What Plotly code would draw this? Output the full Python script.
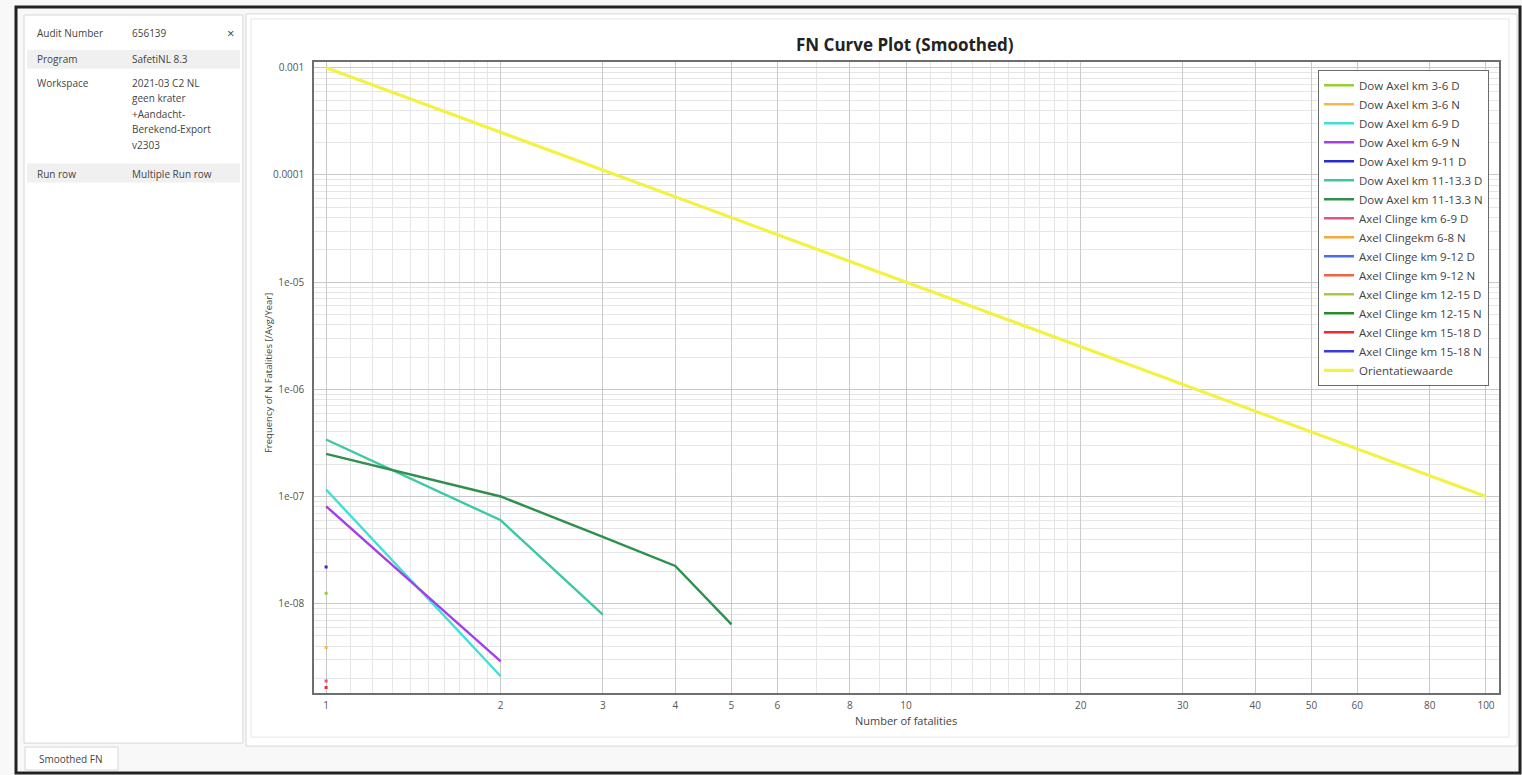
import plotly.graph_objects as go
import numpy as np

W, H = 1522, 775

# ---------------- data ----------------
series_names = [
    "Dow Axel km 3-6 D", "Dow Axel km 3-6 N", "Dow Axel km 6-9 D", "Dow Axel km 6-9 N",
    "Dow Axel km 9-11 D", "Dow Axel km 11-13.3 D", "Dow Axel km 11-13.3 N",
    "Axel Clinge km 6-9 D", "Axel Clingekm 6-8 N", "Axel Clinge km 9-12 D",
    "Axel Clinge km 9-12 N", "Axel Clinge km 12-15 D", "Axel Clinge km 12-15 N",
    "Axel Clinge km 15-18 D", "Axel Clinge km 15-18 N", "Orientatiewaarde",
]
series_colors = [
    "#9acd32", "#f4b84a", "#3fe0d6", "#a33ee8",
    "#2a2ad0", "#3cc9a2", "#2f8f4e",
    "#e8507e", "#f2a93a", "#4a6ee8",
    "#f06446", "#a9c843", "#2a8a2a",
    "#f02a2a", "#3a3ae0", "#f2f244",
]
n_dow_3_6_d = [1];            f_dow_3_6_d = [1.25e-8]
n_dow_3_6_n = [1];            f_dow_3_6_n = [3.9e-9]
n_dow_6_9_d = [1, 2];         f_dow_6_9_d = [1.16e-7, 2.1e-9]
n_dow_6_9_n = [1, 2];         f_dow_6_9_n = [8.1e-8, 2.9e-9]
n_dow_9_11_d = [1];           f_dow_9_11_d = [2.2e-8]
n_dow_11_13_d = [1, 2, 3];    f_dow_11_13_d = [3.4e-7, 6.0e-8, 7.9e-9]
n_dow_11_13_n = [1, 2, 3, 4, 5]; f_dow_11_13_n = [2.5e-7, 1.0e-7, 4.2e-8, 2.25e-8, 6.4e-9]
n_ac_6_9_d = [1];             f_ac_6_9_d = [1.9e-9]
n_ac_6_8_n = [1];             f_ac_6_8_n = [None]
n_ac_9_12_d = [1];            f_ac_9_12_d = [None]
n_ac_9_12_n = [1];            f_ac_9_12_n = [None]
n_ac_12_15_d = [1];           f_ac_12_15_d = [None]
n_ac_12_15_n = [1];           f_ac_12_15_n = [None]
n_ac_15_18_d = [1];           f_ac_15_18_d = [1.65e-9]
n_ac_15_18_n = [1];           f_ac_15_18_n = [None]
n_orient = [1, 100];          f_orient = [1e-3, 1e-7]

series_n = [n_dow_3_6_d, n_dow_3_6_n, n_dow_6_9_d, n_dow_6_9_n, n_dow_9_11_d,
            n_dow_11_13_d, n_dow_11_13_n, n_ac_6_9_d, n_ac_6_8_n, n_ac_9_12_d,
            n_ac_9_12_n, n_ac_12_15_d, n_ac_12_15_n, n_ac_15_18_d, n_ac_15_18_n, n_orient]
series_f = [f_dow_3_6_d, f_dow_3_6_n, f_dow_6_9_d, f_dow_6_9_n, f_dow_9_11_d,
            f_dow_11_13_d, f_dow_11_13_n, f_ac_6_9_d, f_ac_6_8_n, f_ac_9_12_d,
            f_ac_9_12_n, f_ac_12_15_d, f_ac_12_15_n, f_ac_15_18_d, f_ac_15_18_n, f_orient]

x_tickvals = [1, 2, 3, 4, 5, 6, 8, 10, 20, 30, 40, 50, 60, 80, 100]
y_tickvals = [1e-3, 1e-4, 1e-5, 1e-6, 1e-7, 1e-8]
y_ticktext = ["0.001", "0.0001", "1e-05", "1e-06", "1e-07", "1e-08"]

info_labels = ["Audit Number", "Program", "Workspace", "Run row"]
info_values = [["656139"], ["SafetiNL 8.3"],
               ["2021-03 C2 NL", "geen krater", "+Aandacht-", "Berekend-Export", "v2303"],
               ["Multiple Run row"]]

# ---------------- helpers ----------------
def px(x):
    return x / W

def py(y):
    return 1 - y / H

FONT = "Open Sans"
TXT = "#444"
fig = go.Figure()

for name, col, xs, ys in zip(series_names, series_colors, series_n, series_f):
    width = 3.2 if name == "Orientatiewaarde" else 2.4
    fig.add_trace(go.Scatter(x=xs, y=ys, mode="lines", name=name,
                             line=dict(color=col, width=width), legendgroup=name))
    if len(xs) == 1 and ys[0] is not None:
        fig.add_trace(go.Scatter(x=xs, y=ys, mode="markers", showlegend=False,
                                 legendgroup=name,
                                 marker=dict(color=col, size=3, symbol="square")))

minor_x = [1.1, 1.2, 1.3, 1.4, 1.5, 1.6, 1.7, 1.8, 1.9, 7, 9,
           11, 12, 13, 14, 15, 16, 17, 18, 19]

fig.update_xaxes(
    type="log", range=[np.log10(0.953), np.log10(105.3)],
    domain=[px(314), px(1499)],
    tickmode="array", tickvals=x_tickvals, ticktext=[str(v) for v in x_tickvals],
    showgrid=True, gridcolor="#c9c9c9", gridwidth=1,
    minor=dict(tickmode="array", tickvals=minor_x, showgrid=True,
               gridcolor="#e6e6e6", gridwidth=1, ticks=""),
    showline=True, linecolor="#6e6e6e", linewidth=1.5, mirror=True,
    ticks="", zeroline=False, ticklabelstandoff=2,
    tickfont=dict(family=FONT, size=10, color="#555"),
)
fig.update_yaxes(
    type="log", range=[np.log10(1.46e-9), np.log10(1.137e-3)],
    domain=[py(693), py(60)],
    tickmode="array", tickvals=y_tickvals, ticktext=y_ticktext,
    showgrid=True, gridcolor="#c9c9c9", gridwidth=1,
    minor=dict(dtick="D1", showgrid=True, gridcolor="#e6e6e6", gridwidth=1, ticks=""),
    showline=True, linecolor="#6e6e6e", linewidth=1.5, mirror=True,
    ticks="", zeroline=False, ticklabelstandoff=6,
    tickfont=dict(family=FONT, size=10, color="#555"),
)

shapes = []
def rect(x0, y0, x1, y1, line_color, line_width, fill, layer="below"):
    shapes.append(dict(type="rect", xref="paper", yref="paper", x0=px(x0), x1=px(x1),
                       y0=py(y1), y1=py(y0),
                       line=dict(color=line_color, width=line_width),
                       fillcolor=fill, layer=layer))

rect(16, 5, 1520, 773, "#222", 3, "#f8f8f8")          # outer window frame
rect(24, 13, 243, 743, "#d6d6d6", 1, "#ffffff")       # left panel
rect(246, 12, 1517, 746, "#d6d6d6", 1, "#ffffff")     # main panel
rect(251, 17, 1509, 737, "#e6e6e6", 1, "rgba(0,0,0,0)")
rect(25, 747, 118, 770, "#d6d6d6", 1, "#ffffff")      # bottom tab
rect(27, 48, 240, 67, "rgba(0,0,0,0)", 0, "#f0f0f0")  # grey rows in info table
rect(27, 162, 240, 181, "rgba(0,0,0,0)", 0, "#f0f0f0")

annotations = []
def text(t, x, y, size=10, xanchor="center", yanchor="middle", angle=0, color=TXT):
    annotations.append(dict(text=t, x=px(x), y=py(y), xref="paper", yref="paper",
                            showarrow=False, xanchor=xanchor, yanchor=yanchor,
                            textangle=angle, align="left",
                            font=dict(family=FONT, size=size, color=color)))

text("<b>FN Curve Plot (Smoothed)</b>", 905, 43, size=17, color="#222")
text("Number of fatalities", 906, 720, size=11)
text("Frequency of N Fatalities [/Avg/Year]", 268, 372, size=9.5, angle=-90)
text("Smoothed FN", 71, 759, size=10)
text("×", 230, 31, size=13)
label_y = [31, 57, 81, 172]
for lab, vals, yy in zip(info_labels, info_values, label_y):
    text(lab, 35, yy, xanchor="left")
    for k, v in enumerate(vals):
        text(v, 130, yy + 15.5 * k, xanchor="left")

fig.update_layout(
    width=W, height=H, autosize=False,
    margin=dict(l=0, r=0, t=0, b=0),
    paper_bgcolor="#f8f8f8", plot_bgcolor="#ffffff",
    shapes=shapes, annotations=annotations,
    legend=dict(x=px(1318), y=py(68), xanchor="left", yanchor="top",
                bgcolor="#ffffff", bordercolor="#6a6a6a", borderwidth=1,
                font=dict(family=FONT, size=11.5, color=TXT),
                itemwidth=30, tracegroupgap=0),
    showlegend=True,
)

fig.write_html("out.html", config={"displayModeBar": False},
               post_script="document.body.style.margin='0';")
